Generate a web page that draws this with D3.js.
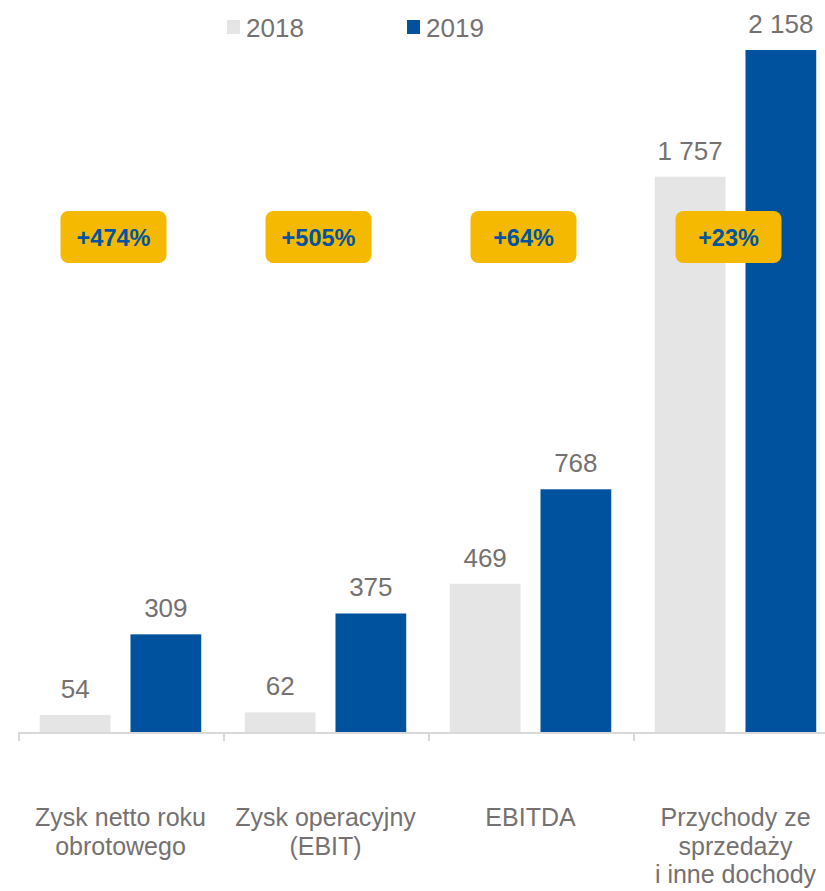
<!DOCTYPE html>
<html>
<head>
<meta charset="utf-8">
<script src="https://cdn.jsdelivr.net/npm/d3@7"></script>
<style>
  body { margin: 0; background: #fff; }
  svg { font-family: Arial, "Liberation Sans", sans-serif; }
</style>
</head>
<body>
<svg width="825" height="891"></svg>
<script>
// data
const categories = [
  ["Zysk netto roku", "obrotowego"],
  ["Zysk operacyjny", "(EBIT)"],
  ["EBITDA"],
  ["Przychody ze", "sprzedaży", "i inne dochody"]
];
const series = ["2018", "2019"];
const values2018 = [54, 62, 469, 1757];
const values2019 = [309, 375, 768, 2158];
const changes = ["+474%", "+505%", "+64%", "+23%"];

const colors = { "2018": "#E5E5E5", "2019": "#00529F" };
const textGray = "#767171";

const svg = d3.select("svg");
const keys = categories.map((c, i) => "c" + i);

// scales
const x = d3.scaleBand()
  .domain(keys)
  .range([18, 838])
  .padding(0);

const xInner = d3.scaleBand()
  .domain(series)
  .range([0, x.bandwidth()])
  .paddingInner(0.22)
  .paddingOuter(0.24);

const y = d3.scaleLinear()
  .domain([0, d3.max(values2019)])
  .range([732, 50]);

const rows = [];
keys.forEach((k, i) => {
  rows.push({ key: k, s: "2018", v: values2018[i] });
  rows.push({ key: k, s: "2019", v: values2019[i] });
});

// bars
svg.selectAll(".bar")
  .data(rows)
  .enter().append("rect")
  .attr("class", "bar")
  .attr("x", d => x(d.key) + xInner(d.s))
  .attr("y", d => y(d.v))
  .attr("width", xInner.bandwidth())
  .attr("height", d => y(0) - y(d.v))
  .attr("fill", d => colors[d.s]);

// value labels
const fmt = v => d3.format(",")(v).replace(/,/g, " ");
svg.selectAll(".val")
  .data(rows)
  .enter().append("text")
  .attr("class", "val")
  .attr("x", d => x(d.key) + xInner(d.s) + xInner.bandwidth() / 2)
  .attr("y", d => y(d.v) - 17)
  .attr("text-anchor", "middle")
  .attr("font-size", 26)
  .attr("fill", textGray)
  .text(d => fmt(d.v));

// axis line + ticks
svg.append("line")
  .attr("x1", x.range()[0]).attr("x2", 825)
  .attr("y1", y(0) + 1).attr("y2", y(0) + 1)
  .attr("stroke", "#D9D9D9").attr("stroke-width", 2);

svg.selectAll(".tick")
  .data(keys)
  .enter().append("line")
  .attr("class", "tick")
  .attr("x1", d => x(d) + 1).attr("x2", d => x(d) + 1)
  .attr("y1", y(0)).attr("y2", y(0) + 9)
  .attr("stroke", "#D9D9D9").attr("stroke-width", 2);

// category labels
const cat = svg.selectAll(".cat")
  .data(keys)
  .enter().append("text")
  .attr("class", "cat")
  .attr("text-anchor", "middle")
  .attr("font-size", 25)
  .attr("fill", textGray);

cat.each(function(d, i) {
  const t = d3.select(this);
  categories[i].forEach((line, j) => {
    t.append("tspan")
      .attr("x", x(d) + x.bandwidth() / 2)
      .attr("y", 826 + j * 28.5)
      .text(line);
  });
});

// change badges
const badge = svg.selectAll(".badge")
  .data(keys)
  .enter().append("g")
  .attr("class", "badge")
  .attr("transform", d => `translate(${x(d) + x.bandwidth() / 2 - 7},237)`);

badge.append("rect")
  .attr("x", -53).attr("y", -26)
  .attr("width", 106).attr("height", 52)
  .attr("rx", 8)
  .attr("fill", "#F4B900");

badge.append("text")
  .attr("text-anchor", "middle")
  .attr("y", 9)
  .attr("font-size", 23.5)
  .attr("font-weight", "bold")
  .attr("fill", "#0054A0")
  .text((d, i) => changes[i]);

// legend
const legendX = d3.scaleOrdinal().domain(series).range([227, 407]);
const legend = svg.selectAll(".legend")
  .data(series)
  .enter().append("g")
  .attr("class", "legend")
  .attr("transform", d => `translate(${legendX(d)},20)`);

legend.append("rect")
  .attr("width", 13).attr("height", 14)
  .attr("fill", d => colors[d]);

legend.append("text")
  .attr("x", 19).attr("y", 16.5)
  .attr("font-size", 26)
  .attr("fill", textGray)
  .text(d => d);
</script>
</body>
</html>
